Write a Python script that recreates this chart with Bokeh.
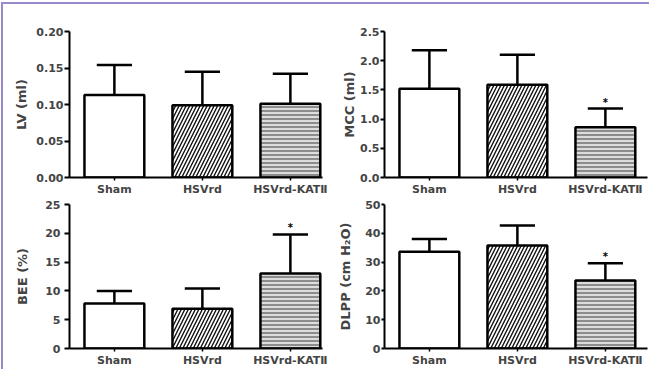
from bokeh.plotting import figure
from bokeh.layouts import row, column
from bokeh.models import Range1d, FixedTicker, Div
from bokeh.core.properties import value
from bokeh.embed import file_html
from bokeh.resources import INLINE

# ---- data ----
groups = ["Sham", "HSVrd", "HSVrd-KAT\u2161"]
xpos = [1, 2, 3]

lv_mean = [0.113, 0.099, 0.101]
lv_sd = [0.041, 0.046, 0.041]
lv_sig = ["", "", ""]
lv_ticks = [0.0, 0.05, 0.10, 0.15, 0.20]
lv_tick_labels = ["0.00", "0.05", "0.10", "0.15", "0.20"]

mcc_mean = [1.52, 1.59, 0.86]
mcc_sd = [0.66, 0.51, 0.32]
mcc_sig = ["", "", "*"]
mcc_ticks = [0.0, 0.5, 1.0, 1.5, 2.0, 2.5]
mcc_tick_labels = ["0.0", "0.5", "1.0", "1.5", "2.0", "2.5"]

bee_mean = [7.8, 6.9, 13.0]
bee_sd = [2.2, 3.5, 6.8]
bee_sig = ["", "", "*"]
bee_ticks = [0, 5, 10, 15, 20, 25]
bee_tick_labels = ["0", "5", "10", "15", "20", "25"]

dlpp_mean = [33.6, 35.8, 23.6]
dlpp_sd = [4.4, 6.9, 6.0]
dlpp_sig = ["", "", "*"]
dlpp_ticks = [0, 10, 20, 30, 40, 50]
dlpp_tick_labels = ["0", "10", "20", "30", "40", "50"]

# ---- styles ----
FONT = "DejaVu Sans"
PURPLE = "#9a88cc"
bar_fill = ["white", "white", "#dcdcdc"]
bar_hatch = [None, "/", "-"]
bar_hatch_color = ["black", "#111111", "#4a4a4a"]
bar_hatch_scale = [8, 7, 4]
bar_hatch_weight = [1, 1.4, 1.1]
BAR_W = 0.68
CAP_HALF = 0.2


def make_panel(means, sds, sig, ticks, tick_labels, ytitle, width, height,
               bl, br, bt, bb, x_end, ytick_out, ylab_standoff, ytitle_standoff):
    p = figure(width=width, height=height, output_backend="svg",
               toolbar_location=None,
               x_range=Range1d(0.49, x_end),
               y_range=Range1d(ticks[0], ticks[-1]),
               min_border_left=bl, min_border_right=br,
               min_border_top=bt, min_border_bottom=bb)
    p.outline_line_color = None
    p.xgrid.visible = False
    p.ygrid.visible = False
    p.background_fill_color = "white"
    p.border_fill_color = "white"

    for i in range(len(xpos)):
        kw = dict(fill_color=bar_fill[i], line_color="black", line_width=2.5)
        if bar_hatch[i]:
            kw.update(hatch_pattern=bar_hatch[i], hatch_color=bar_hatch_color[i],
                      hatch_scale=bar_hatch_scale[i], hatch_weight=bar_hatch_weight[i])
        p.vbar(x=[xpos[i]], top=[means[i]], bottom=0, width=BAR_W, **kw)

    upper = [m + s for m, s in zip(means, sds)]
    p.segment(x0=xpos, y0=means, x1=xpos, y1=upper, line_color="black", line_width=2.5)
    p.segment(x0=[x - CAP_HALF for x in xpos], y0=upper,
              x1=[x + CAP_HALF for x in xpos], y1=upper,
              line_color="black", line_width=2.5)
    p.text(x=xpos, y=upper, text=sig, text_align="center", text_baseline="bottom",
           y_offset=-1, text_font=value(FONT), text_font_style="bold",
           text_font_size="10px", text_color="black")

    ya = p.yaxis[0]
    ya.ticker = FixedTicker(ticks=ticks)
    ya.major_label_overrides = {t: l for t, l in zip(ticks, tick_labels)}
    ya.axis_label = ytitle
    ya.axis_label_text_font = FONT
    ya.axis_label_text_font_style = "bold"
    ya.axis_label_text_font_size = "13px"
    ya.axis_label_standoff = ytitle_standoff
    ya.major_label_text_font = FONT
    ya.major_label_text_font_style = "bold"
    ya.major_label_text_font_size = "11px"
    ya.major_label_standoff = ylab_standoff
    ya.major_tick_in = 0
    ya.major_tick_out = ytick_out
    ya.minor_tick_out = 0
    ya.minor_tick_in = 0
    ya.axis_line_width = 2
    ya.major_tick_line_width = 2

    xa = p.xaxis[0]
    xa.ticker = FixedTicker(ticks=xpos)
    xa.major_label_overrides = {x: g for x, g in zip(xpos, groups)}
    xa.major_label_text_font = FONT
    xa.major_label_text_font_style = "bold"
    xa.major_label_text_font_size = "11px"
    xa.major_label_standoff = 2
    xa.major_tick_in = 0
    xa.major_tick_out = 3
    xa.minor_tick_out = 0
    xa.minor_tick_in = 0
    xa.axis_line_width = 2
    xa.major_tick_line_width = 1.5
    return p


tl = make_panel(lv_mean, lv_sd, lv_sig, lv_ticks, lv_tick_labels, "LV (ml)",
                329, 194, 66, 10, 23, 20, 0.49 + 253 / 88, 5, 1, 4)
tr = make_panel(mcc_mean, mcc_sd, mcc_sig, mcc_ticks, mcc_tick_labels, "MCC (ml)",
                317, 194, 52, 2, 27, 18, 0.49 + 263 / 88, 4, 1, 0)
bl = make_panel(bee_mean, bee_sd, bee_sig, bee_ticks, bee_tick_labels, "BEE (%)",
                329, 171, 66, 10, 6, 18, 0.49 + 253 / 88, 5, 4, 12)
br = make_panel(dlpp_mean, dlpp_sd, dlpp_sig, dlpp_ticks, dlpp_tick_labels,
                "DLPP (cm H\u2082O)",
                317, 171, 52, 2, 6, 18, 0.49 + 263 / 88, 3, 1, 9)

grid = column(row(tl, tr, spacing=0), row(bl, br, spacing=0), spacing=0)

top_gap = Div(text="", width=649, height=2, margin=0)
top_line = row(Div(text="", width=1, height=2, margin=0),
               Div(text="", width=648, height=2, margin=0,
                   styles={"background-color": PURPLE}), spacing=0)
body = row(Div(text="", width=1, height=365, margin=0),
           Div(text="", width=2, height=365, margin=0,
               styles={"background-color": PURPLE}),
           grid, spacing=0)
page = column(top_gap, top_line, body, spacing=0)

open("out.html", "w").write(file_html(page, INLINE))
